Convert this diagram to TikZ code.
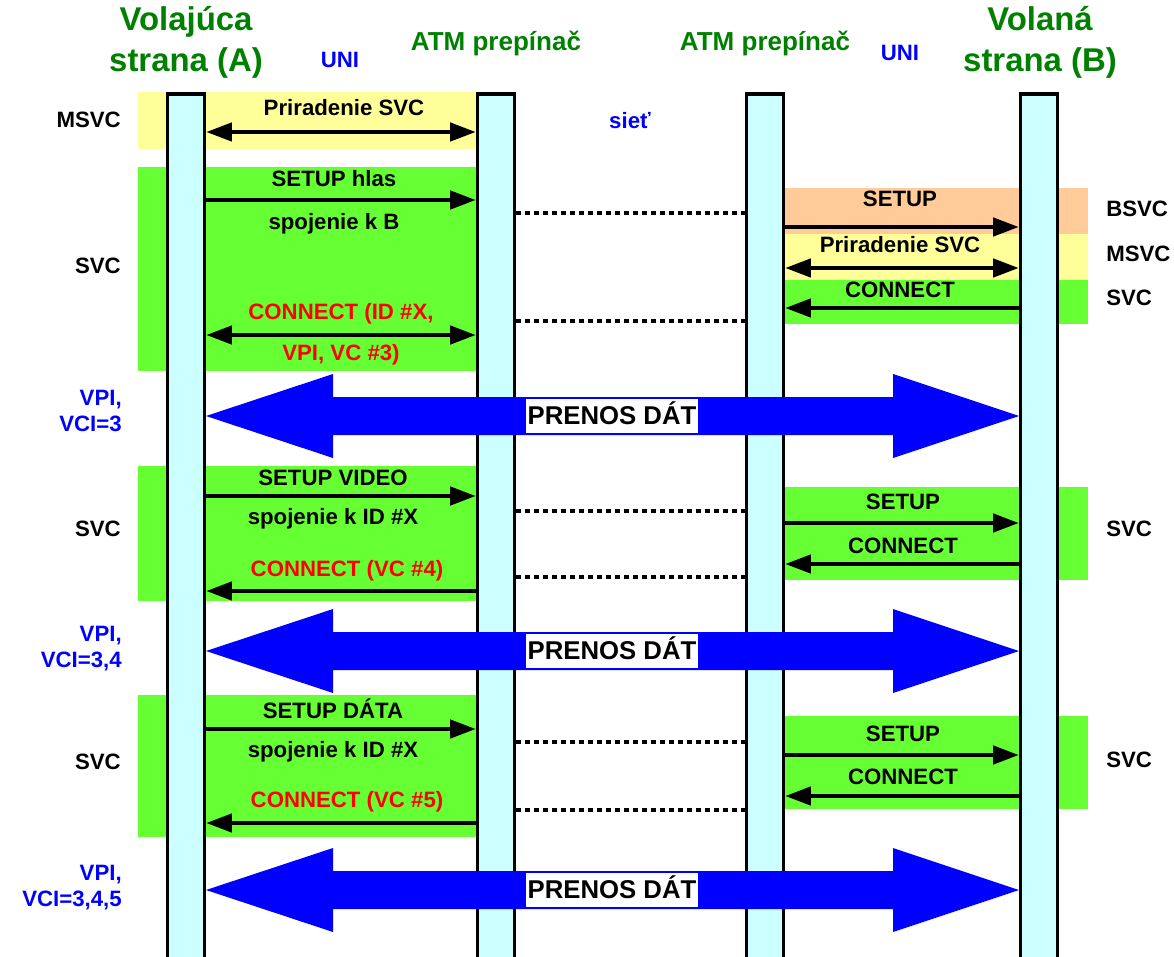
\documentclass[tikz,border=0pt]{standalone}
\usepackage{fontspec}
\setmainfont{Liberation Sans}
\usepackage{tikz}
\usetikzlibrary{arrows.meta,positioning}
\definecolor{atmgreen}{RGB}{0,128,0}
\definecolor{atmblue}{RGB}{0,0,255}
\definecolor{atmred}{RGB}{255,0,0}
\definecolor{svcgreen}{RGB}{102,255,51}
\definecolor{msvcyellow}{RGB}{255,255,153}
\definecolor{bsvcorange}{RGB}{255,204,153}
\definecolor{linecyan}{RGB}{204,255,255}
\tikzstyle{lifeline} = [rectangle, draw=black, line width=2.5pt, fill=linecyan, minimum width=0.93cm, minimum height=21.9cm, anchor=north, inner sep=0pt]
\tikzstyle{msg} = [line width=2.5pt, -{Triangle[length=0.64cm,width=0.46cm]}]
\tikzstyle{msgboth} = [line width=2.5pt, {Triangle[length=0.64cm,width=0.46cm]}-{Triangle[length=0.64cm,width=0.46cm]}]
\tikzstyle{relay} = [line width=2.5pt, dash pattern=on 3.6pt off 2.8pt]
\tikzstyle{lbl} = [font=\fontsize{15.8}{18.5}\selectfont\bfseries, inner sep=0pt, text height=11.5pt, text depth=3.2pt]
\tikzstyle{side} = [font=\fontsize{15.8}{18.5}\selectfont\bfseries, inner sep=0pt, align=right, anchor=east, text=atmblue]
\tikzstyle{title} = [font=\fontsize{23.4}{29}\selectfont\bfseries, inner sep=0pt, align=center, text=atmgreen]
\tikzstyle{switch} = [font=\fontsize{18.5}{22}\selectfont\bfseries, inner sep=0pt, text=atmgreen]
\tikzstyle{datalbl} = [font=\fontsize{18.3}{22}\selectfont\bfseries, fill=white, inner xsep=1.5pt, inner ysep=4pt, text height=14pt, text depth=2pt]

\begin{document}
\begin{tikzpicture}[x=0.025cm, y=-0.025cm]
\useasboundingbox (0,0) rectangle (1174,957);
% signalling bands behind the lifelines
\fill[msvcyellow] (138,92) rectangle (476,149);
\fill[svcgreen] (138,167) rectangle (476,371);
\fill[bsvcorange] (785,188) rectangle (1088,234);
\fill[msvcyellow] (785,234) rectangle (1088,280);
\fill[svcgreen] (785,280) rectangle (1088,324);
\fill[svcgreen] (138,466) rectangle (476,601);
\fill[svcgreen] (785,487) rectangle (1088,580);
\fill[svcgreen] (138,695) rectangle (476,837);
\fill[svcgreen] (785,716) rectangle (1088,809);
% lifelines
\node[lifeline] (barA) at (186,92) {};
\node[lifeline] (barS1) at (496,92) {};
\node[lifeline] (barS2) at (765,92) {};
\node[lifeline] (barB) at (1039,92) {};
% headings
\node[title] (callA) at (186,42) {Volajúca\\strana (A)};
\node[title] (callB) at (1040,42) {Volaná\\strana (B)};
\node[switch] (sw1) at (496,43) {ATM prepínač};
\node[switch] (sw2) at (765,43) {ATM prepínač};
\node[lbl, text=atmblue] (uni1) at (340,62) {UNI};
\node[lbl, text=atmblue] (uni2) at (900,55) {UNI};
\node[lbl, text=atmblue] (net) at (630,123) {sieť};
% row labels
\node[lbl, anchor=east] (rowA1) at (121,122) {MSVC};
\node[lbl, anchor=east] (rowA2) at (121,268) {SVC};
\node[lbl, anchor=east] (rowA3) at (121,531) {SVC};
\node[lbl, anchor=east] (rowA4) at (121,764) {SVC};
\node[lbl, anchor=west] (rowB1) at (1106,211) {BSVC};
\node[lbl, anchor=west] (rowB2) at (1106,256) {MSVC};
\node[lbl, anchor=west] (rowB3) at (1106,300) {SVC};
\node[lbl, anchor=west] (rowB4) at (1106,531) {SVC};
\node[lbl, anchor=west] (rowB5) at (1106,762) {SVC};
\node[side] (vci1) at (122,411) {VPI,\\VCI=3};
\node[side] (vci2) at (122,649) {VPI,\\VCI=3,4};
\node[side] (vci3) at (122,888) {VPI,\\VCI=3,4,5};
% voice call
\draw[msgboth] (barA.east |- 0,132) -- (barS1.west |- 0,132);
\node[lbl] (m1) at (344,110) {Priradenie SVC};
\draw[msg] (barA.east |- 0,200) -- (barS1.west |- 0,200);
\node[lbl] (m2) at (334,181) {SETUP hlas};
\node[lbl] (m2b) at (334,224) {spojenie k B};
\draw[relay] (barS1.east |- 0,213) -- (barS2.west |- 0,213);
\draw[msg] (barS2.east |- 0,227) -- (barB.west |- 0,227);
\node[lbl] (m3) at (900,201) {SETUP};
\draw[msgboth] (barS2.east |- 0,268) -- (barB.west |- 0,268);
\node[lbl] (m4) at (900,247) {Priradenie SVC};
\draw[msg] (barB.west |- 0,308) -- (barS2.east |- 0,308);
\node[lbl] (m5) at (900,292) {CONNECT};
\draw[relay] (barS1.east |- 0,321) -- (barS2.west |- 0,321);
\draw[msgboth] (barA.east |- 0,335) -- (barS1.west |- 0,335);
\node[lbl, text=atmred] (m6) at (341,314) {CONNECT (ID \#X,};
\node[lbl, text=atmred] (m6b) at (341,355) {VPI, VC \#3)};
% video call
\draw[msg] (barA.east |- 0,496) -- (barS1.west |- 0,496);
\node[lbl] (v1) at (333,480) {SETUP VIDEO};
\node[lbl] (v1b) at (333,519) {spojenie k ID \#X};
\draw[relay] (barS1.east |- 0,511) -- (barS2.west |- 0,511);
\draw[msg] (barS2.east |- 0,523) -- (barB.west |- 0,523);
\node[lbl] (v2) at (903,504) {SETUP};
\draw[msg] (barB.west |- 0,564) -- (barS2.east |- 0,564);
\node[lbl] (v3) at (903,548) {CONNECT};
\draw[relay] (barS1.east |- 0,577) -- (barS2.west |- 0,577);
\draw[msg] (barS1.west |- 0,591) -- (barA.east |- 0,591);
\node[lbl, text=atmred] (v4) at (347,571) {CONNECT (VC \#4)};
% data call
\draw[msg] (barA.east |- 0,729) -- (barS1.west |- 0,729);
\node[lbl] (d1) at (333,713) {SETUP DÁTA};
\node[lbl] (d1b) at (333,752) {spojenie k ID \#X};
\draw[relay] (barS1.east |- 0,742) -- (barS2.west |- 0,742);
\draw[msg] (barS2.east |- 0,755) -- (barB.west |- 0,755);
\node[lbl] (d2) at (903,736) {SETUP};
\draw[msg] (barB.west |- 0,796) -- (barS2.east |- 0,796);
\node[lbl] (d3) at (903,779) {CONNECT};
\draw[relay] (barS1.east |- 0,810) -- (barS2.west |- 0,810);
\draw[msg] (barS1.west |- 0,823) -- (barA.east |- 0,823);
\node[lbl, text=atmred] (d4) at (347,802) {CONNECT (VC \#5)};
% data transfer arrows
\foreach \y/\i in {416/1,651/2,890/3} {
  \fill[atmblue] (206,\y) -- (333,\y-42) -- (333,\y-19) -- (893,\y-19) -- (893,\y-42)
    -- (1019,\y) -- (893,\y+42) -- (893,\y+19) -- (333,\y+19) -- (333,\y+42) -- cycle;
  \node[datalbl] (prenos\i) at (612,\y) {PRENOS DÁT};
}
\end{tikzpicture}
\end{document}
